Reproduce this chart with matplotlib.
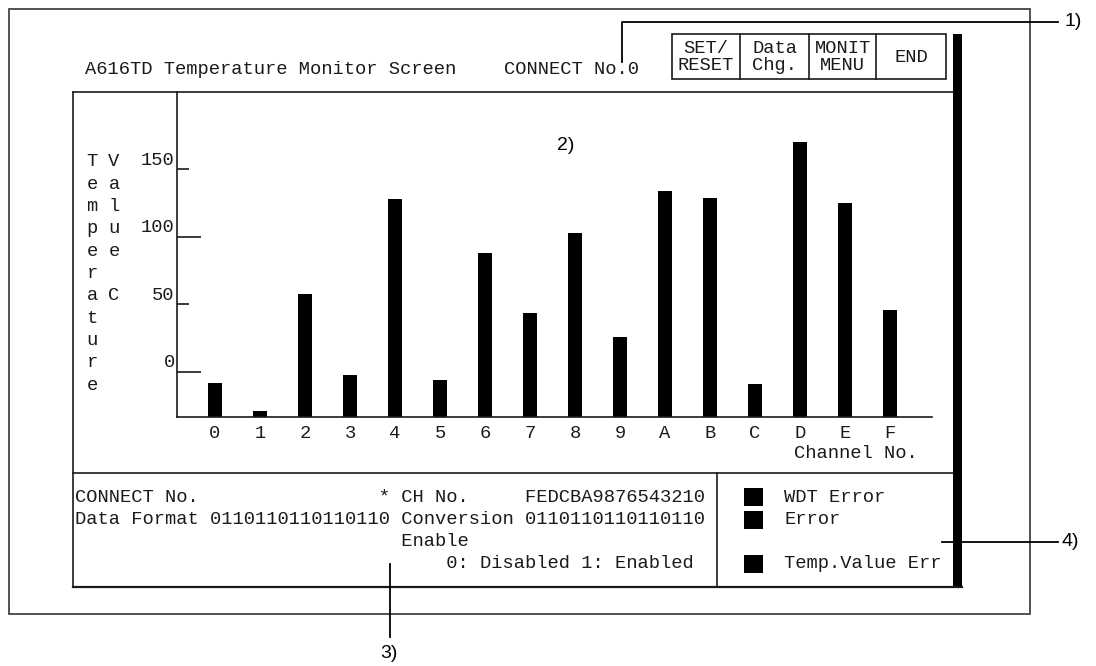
import matplotlib.pyplot as plt
from matplotlib.patches import Rectangle

# channel data
channels = ['0', '1', '2', '3', '4', '5', '6', '7', '8', '9', 'A', 'B', 'C', 'D', 'E', 'F']
temps = [-8, -29, 58, -2, 128, -6, 88, 44, 103, 26, 134, 129, -9, 170, 125, 46]
major_ticks = [0, 100]
minor_ticks = [50, 150]
buttons = [('SET/\nRESET', 672, 740), ('Data\nChg.', 740, 809),
           ('MONIT\nMENU', 809, 876), ('END', 876, 946)]
legend_items = [('WDT Error', 497), ('Error', 520), ('Temp.Value Err', 564)]

W, H = 1096, 666
mono = 'Liberation Mono'
fs = 13.5
ink = '#1a1a1a'

fig = plt.figure(figsize=(W / 100, H / 100), dpi=100)

# full-figure layer in pixel coordinates for the screen frame and texts
bg = fig.add_axes([0, 0, 1, 1])
bg.set_xlim(0, W)
bg.set_ylim(H, 0)
bg.axis('off')

# outer frame
bg.add_patch(Rectangle((9, 9), 1021, 605, fill=False, ec='#444444', lw=1.3))
# thick black bar on the right of the screen
bg.add_patch(Rectangle((953, 34), 9, 553, color='black', lw=0))
# screen box lines
bg.plot([73, 953], [92, 92], color=ink, lw=1.2)
bg.plot([73, 73], [92, 587], color=ink, lw=1.2)
bg.plot([73, 962], [587, 587], color=ink, lw=1.6)
bg.plot([73, 953], [473, 473], color=ink, lw=1.2)
bg.plot([717, 717], [473, 587], color=ink, lw=1.2)

# header
bg.text(85, 70, 'A616TD Temperature Monitor Screen', family=mono, size=fs, va='center', color=ink)
bg.text(504, 70, 'CONNECT No.0', family=mono, size=fs, va='center', color=ink)

# buttons
bg.add_patch(Rectangle((672, 34), 274, 45, fill=False, ec=ink, lw=1.2))
for label, x0, x1 in buttons:
    if x0 > 672:
        bg.plot([x0, x0], [34, 79], color=ink, lw=1.2)
    bg.text((x0 + x1) / 2, 57, label, family=mono, size=fs, ha='center', va='center',
            linespacing=1.05, color=ink)

# vertical axis title letters
for i, ch in enumerate('Temperature'):
    bg.text(92, 162 + i * 22.3, ch, family=mono, size=fs, ha='center', va='center', color=ink)
for i, ch in enumerate('Value C'):
    bg.text(114, 162 + i * 22.3, ch, family=mono, size=fs, ha='center', va='center', color=ink)

# bottom info panel
rows = [
    'CONNECT No.' + ' ' * 16 + '* CH No.     FEDCBA9876543210',
    'Data Format 0110110110110110 Conversion 0110110110110110',
    ' ' * 29 + 'Enable',
    ' ' * 33 + '0: Disabled 1: Enabled',
]
for y, row in zip([497, 520, 542, 564], rows):
    bg.text(75, y, row, family=mono, size=fs, va='center', color=ink)

for name, y in legend_items:
    bg.add_patch(Rectangle((744, y - 9), 19, 18, color='black', lw=0))
    bg.text(784, y, name, family=mono, size=fs, va='center', color=ink)

# callouts
callout = dict(family='Liberation Sans', size=14, va='center')
bg.plot([622, 622, 1058], [62, 22, 22], color='black', lw=1.3)
bg.text(1065, 22, '1)', **callout)
bg.text(557, 145, '2)', **callout)
bg.plot([390, 390], [564, 637], color='black', lw=1.3)
bg.text(389, 654, '3)', ha='center', **{k: v for k, v in callout.items()})
bg.plot([942, 1058], [542, 542], color='black', lw=1.3)
bg.text(1062, 542, '4)', **callout)

# bar chart area
ax = fig.add_axes([177 / W, 1 - 417 / H, (932 - 177) / W, (417 - 92) / H])
ax.patch.set_visible(False)
ymin, ymax = -33.3, 207.2
x = list(range(len(channels)))
ax.bar(x, [t - ymin for t in temps], bottom=ymin, width=0.31, color='black')
ax.set_xlim(-0.844, 15.93)
ax.set_ylim(ymin, ymax)

for s in ['top', 'right']:
    ax.spines[s].set_visible(False)
for s in ['left', 'bottom']:
    ax.spines[s].set_color(ink)
    ax.spines[s].set_linewidth(1.2)

ax.set_xticks(x)
ax.set_xticklabels(channels, family=mono, size=fs, color=ink)
ax.tick_params(axis='x', length=0, pad=6)
ax.set_yticks(major_ticks)
ax.set_yticks(minor_ticks, minor=True)
ax.tick_params(axis='y', which='major', direction='in', length=17, width=1.2, color=ink, labelleft=False)
ax.tick_params(axis='y', which='minor', direction='in', length=8.5, width=1.2, color=ink, labelleft=False)
for v in sorted(major_ticks + minor_ticks):
    ax.text(-0.003, v + 0.5, str(v), transform=ax.get_yaxis_transform(), family=mono, size=fs,
            ha='right', va='bottom', color=ink)

ax.text(918, 454, 'Channel No.', transform=bg.transData, family=mono, size=fs, ha='right',
        va='center', color=ink)

fig.savefig('out.png', dpi=100)
